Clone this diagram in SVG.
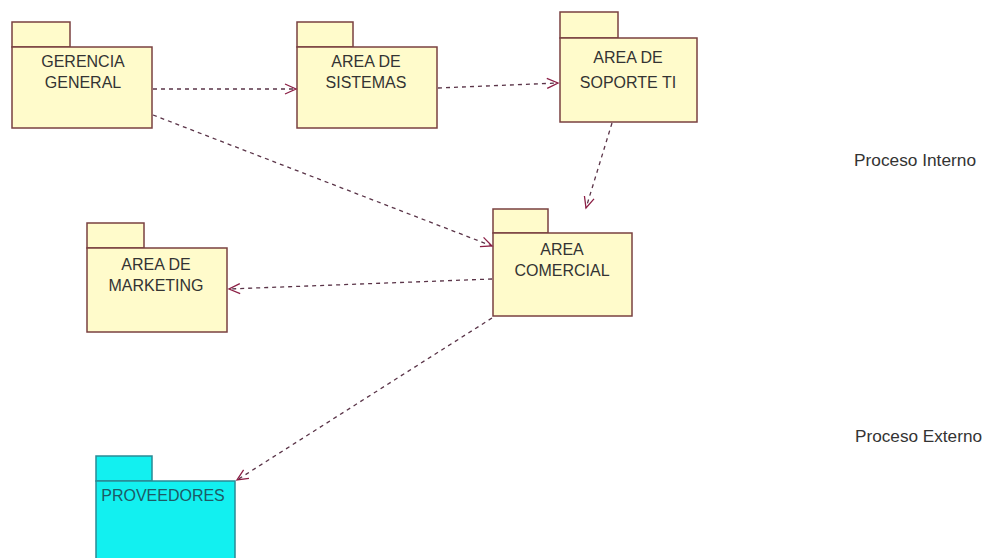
<svg xmlns="http://www.w3.org/2000/svg" width="999" height="558" viewBox="0 0 999 558">
<style>
.pk{fill:#FFFBCB;stroke:#7a4040;stroke-width:1.5}
.pc{fill:#12F0F0;stroke:#2a8a95;stroke-width:1.5}
.t{font-family:"Liberation Sans",Arial,sans-serif;font-size:16px;fill:#333;text-anchor:middle}
.tc{font-family:"Liberation Sans",Arial,sans-serif;font-size:16px;fill:#1d5a66;text-anchor:middle}
.lbl{font-family:"Liberation Sans",Arial,sans-serif;font-size:16px;fill:#333}
.c{fill:none;stroke:#5a3448;stroke-width:1.3;stroke-dasharray:4 4;marker-end:url(#ah)}
</style>
<defs>
<marker id="ah" markerWidth="14" markerHeight="14" refX="12" refY="6" orient="auto" markerUnits="userSpaceOnUse">
<path d="M1,1 L12,6 L1,11" fill="none" stroke="#8b1f45" stroke-width="1.3"/>
</marker>
</defs>
<rect width="999" height="558" fill="#fff"/>
<g id="gerencia">
<rect class="pk" x="12" y="22" width="58" height="25"/>
<rect class="pk" x="12" y="47" width="140" height="81"/>
<text class="t" x="83" y="67">GERENCIA</text>
<text class="t" x="83" y="88">GENERAL</text>
</g>
<g id="sistemas">
<rect class="pk" x="297" y="22" width="56" height="25"/>
<rect class="pk" x="297" y="47" width="140" height="81"/>
<text class="t" x="366" y="67">AREA DE</text>
<text class="t" x="366" y="88">SISTEMAS</text>
</g>
<g id="soporte">
<rect class="pk" x="560" y="12" width="58" height="26"/>
<rect class="pk" x="560" y="38" width="137" height="84"/>
<text class="t" x="628" y="63">AREA DE</text>
<text class="t" x="628" y="88">SOPORTE TI</text>
</g>
<g id="marketing">
<rect class="pk" x="87" y="223" width="57" height="25"/>
<rect class="pk" x="87" y="248" width="140" height="84"/>
<text class="t" x="156" y="270">AREA DE</text>
<text class="t" x="156" y="291">MARKETING</text>
</g>
<g id="comercial">
<rect class="pk" x="493" y="209" width="55" height="24"/>
<rect class="pk" x="493" y="233" width="139" height="83"/>
<text class="t" x="562" y="255">AREA</text>
<text class="t" x="562" y="276">COMERCIAL</text>
</g>
<g id="proveedores">
<rect class="pc" x="96" y="456" width="56" height="25"/>
<rect class="pc" x="96" y="481" width="139" height="80"/>
<text class="tc" x="163" y="501">PROVEEDORES</text>
</g>
<g id="labels">
<text class="lbl" x="854" y="166" textLength="122" lengthAdjust="spacingAndGlyphs">Proceso Interno</text>
<text class="lbl" x="855" y="442" textLength="127" lengthAdjust="spacingAndGlyphs">Proceso Externo</text>
</g>
<g id="connectors">
<line class="c" x1="153" y1="89" x2="296" y2="89"/>
<line class="c" x1="438" y1="88" x2="558" y2="83"/>
<line class="c" x1="612" y1="123" x2="586" y2="208"/>
<line class="c" x1="153" y1="115" x2="492" y2="246"/>
<line class="c" x1="492" y1="279" x2="229" y2="289"/>
<line class="c" x1="492" y1="318" x2="237" y2="480"/>
</g>
</svg>
